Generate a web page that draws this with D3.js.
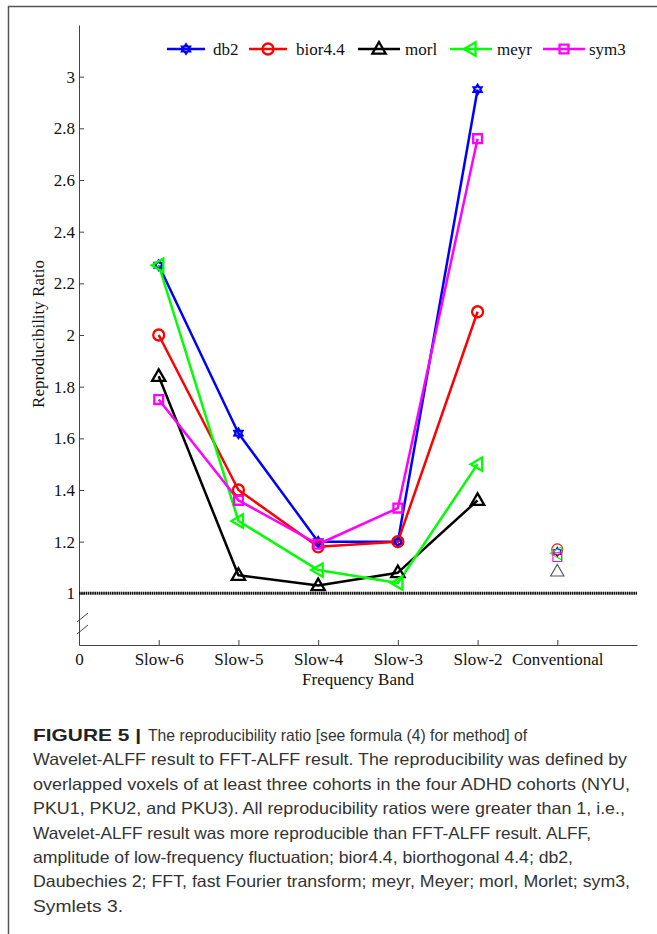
<!DOCTYPE html>
<html><head><meta charset="utf-8">
<script src="https://cdn.jsdelivr.net/npm/d3@7/dist/d3.min.js"></script>
<style>html,body{margin:0;padding:0;background:#fff;}svg{display:block;}</style>
</head><body>
<script>
// ---- data ----
const xTickLabels = ["0", "Slow-6", "Slow-5", "Slow-4", "Slow-3", "Slow-2", "Conventional"];
const bandPositions = [1, 2, 3, 4, 5];
const conventionalPosition = 6;
const seriesNames = ["db2", "bior4.4", "morl", "meyr", "sym3"];
const db2Values   = [2.27, 1.62, 1.20, 1.20, 2.95];
const biorValues  = [2.00, 1.40, 1.18, 1.20, 2.09];
const morlValues  = [1.84, 1.07, 1.03, 1.08, 1.36];
const meyrValues  = [2.27, 1.28, 1.09, 1.04, 1.50];
const sym3Values  = [1.75, 1.36, 1.19, 1.33, 2.76];
const conventionalValues = [1.16, 1.17, 1.085, 1.155, 1.14];
const yTickValues = [1, 1.2, 1.4, 1.6, 1.8, 2, 2.2, 2.4, 2.6, 2.8, 3];
const referenceValue = 1;
const captionBold = "FIGURE 5 |";
const captionLines = [
  "The reproducibility ratio [see formula (4) for method] of",
  "Wavelet-ALFF result to FFT-ALFF result. The reproducibility was defined by",
  "overlapped voxels of at least three cohorts in the four ADHD cohorts (NYU,",
  "PKU1, PKU2, and PKU3). All reproducibility ratios were greater than 1, i.e.,",
  "Wavelet-ALFF result was more reproducible than FFT-ALFF result. ALFF,",
  "amplitude of low-frequency fluctuation; bior4.4, biorthogonal 4.4; db2,",
  "Daubechies 2; FFT, fast Fourier transform; meyr, Meyer; morl, Morlet; sym3,",
  "Symlets 3."
];

// ---- styles ----
const seriesValues = [db2Values, biorValues, morlValues, meyrValues, sym3Values];
const colors = ["#0000ff", "#ff0000", "#000000", "#00ff00", "#ff00ff"];
const markerKinds = ["hexagram", "circle", "triUp", "triLeft", "square"];
const markerSize = [4.6, 5.5, 7, 7, 5.5];

function markerPath(kind, s) {
  if (kind === "circle") {
    const p = d3.path(); p.arc(0, 0, s, 0, 2 * Math.PI); return p.toString();
  }
  if (kind === "hexagram") {
    const pts = [];
    for (let i = 0; i < 12; i++) {
      const r = i % 2 === 0 ? s : s * 0.6;
      const a = -Math.PI / 2 + i * Math.PI / 6;
      pts.push([r * Math.cos(a), r * Math.sin(a)]);
    }
    return "M" + pts.map(p => p.join(",")).join("L") + "Z";
  }
  if (kind === "triUp") return `M0,${-s}L${s * 0.95},${s * 0.65}L${-s * 0.95},${s * 0.65}Z`;
  if (kind === "triLeft") return `M${-s},0L${s * 0.65},${-s * 0.95}L${s * 0.65},${s * 0.95}Z`;
  const h = s * 0.8;
  return `M${-h},${-h}L${h},${-h}L${h},${h}L${-h},${h}Z`;
}

const W = 657, H = 934;
const svg = d3.select("body").append("svg").attr("width", W).attr("height", H);

// frame
svg.append("path").attr("d", `M8.5,${H}L8.5,6.5L${W},6.5`)
  .attr("fill", "none").attr("stroke", "#555").attr("stroke-width", 1.5);

const x = d3.scaleLinear().domain([0, 7]).range([79, 637]);
const y = d3.scaleLinear().domain([0.8, 3.2]).range([645, 25]);
const serif = "Liberation Serif";
const fs = 17;

// axes
const yAxis = d3.axisLeft(y).tickValues(yTickValues).tickSizeInner(-5).tickSizeOuter(0)
  .tickPadding(4).tickFormat(d3.format("~g"));
const gy = svg.append("g").attr("transform", `translate(${x(0)},0)`).call(yAxis);
const xAxis = d3.axisBottom(x).tickValues(d3.range(xTickLabels.length)).tickSizeInner(-5).tickSizeOuter(0)
  .tickPadding(8).tickFormat((d, i) => xTickLabels[i]);
const gx = svg.append("g").attr("transform", `translate(0,${y(0.8)})`).call(xAxis);
[gx, gy].forEach(g => {
  g.attr("font-family", serif).attr("font-size", fs);
  g.selectAll("path,line").attr("stroke", "#444").attr("stroke-width", 1);
  g.selectAll("text").attr("fill", "#111");
});
gx.selectAll(".tick").filter(d => d === 0).select("line").remove();

// axis break slashes
[[622, 613], [634, 625]].forEach(([ya, yb]) => {
  svg.append("line").attr("x1", x(0) - 2).attr("x2", x(0) + 9).attr("y1", ya).attr("y2", yb)
    .attr("stroke", "#444").attr("stroke-width", 1);
});

// axis labels
svg.append("text").attr("x", (x(0) + x(7)) / 2).attr("y", 685).attr("text-anchor", "middle")
  .attr("font-family", serif).attr("font-size", fs).attr("fill", "#111").text("Frequency Band");
svg.append("text").attr("transform", "translate(44,334) rotate(-90)").attr("text-anchor", "middle")
  .attr("font-family", serif).attr("font-size", fs).attr("fill", "#111").text("Reproducibility Ratio");

// reference line at 1
svg.append("line").attr("x1", x(0)).attr("x2", x(7)).attr("y1", y(referenceValue)).attr("y2", y(referenceValue))
  .attr("stroke", "#111").attr("stroke-width", 3).attr("stroke-dasharray", "1.6 0.6");

// series
const line = d3.line().x((d, i) => x(bandPositions[i])).y(d => y(d));
seriesValues.forEach((vals, k) => {
  svg.append("path").datum(vals).attr("d", line).attr("fill", "none")
    .attr("stroke", colors[k]).attr("stroke-width", 2.5).attr("stroke-linejoin", "round");
});
seriesValues.forEach((vals, k) => {
  svg.append("g").selectAll("path").data(vals).join("path")
    .attr("transform", (d, i) => `translate(${x(bandPositions[i])},${y(d)})`)
    .attr("d", markerPath(markerKinds[k], markerSize[k]))
    .attr("fill", "none").attr("stroke", colors[k]).attr("stroke-width", 2.3);
});

// conventional points (thin)
conventionalValues.forEach((v, k) => {
  svg.append("path").attr("transform", `translate(${x(conventionalPosition)},${y(v)})`)
    .attr("d", markerPath(markerKinds[k], markerSize[k]))
    .attr("fill", "none").attr("stroke", k === 2 ? "#555" : colors[k]).attr("stroke-width", 1.1);
});

// legend
const legendX = [[167, 205, 213], [249, 287, 296], [358, 400, 405], [450, 492, 497], [543, 585, 589]];
const legendY = 49;
seriesNames.forEach((name, k) => {
  const [a, b, t] = legendX[k];
  svg.append("line").attr("x1", a).attr("x2", b).attr("y1", legendY).attr("y2", legendY)
    .attr("stroke", colors[k]).attr("stroke-width", 2.5);
  svg.append("path").attr("transform", `translate(${(a + b) / 2},${legendY})`)
    .attr("d", markerPath(markerKinds[k], markerSize[k]))
    .attr("fill", "none").attr("stroke", colors[k]).attr("stroke-width", 2.3);
  svg.append("text").attr("x", t).attr("y", legendY + 5.5).attr("font-family", serif)
    .attr("font-size", fs).attr("fill", "#111").text(name);
});

// caption
const sans = "Liberation Sans";
const capWidths = [374, 594, 597, 592, 558, 540, 597, 90];
const capStart = [153, 33, 33, 33, 33, 33, 33, 33];
svg.append("text").attr("x", 33).attr("y", 741).attr("font-family", sans).attr("font-size", 16.5)
  .attr("font-weight", "bold").attr("fill", "#222").attr("textLength", 108).attr("lengthAdjust", "spacingAndGlyphs")
  .text(captionBold);
captionLines.forEach((ln, i) => {
  svg.append("text").attr("x", i === 0 ? 148 : capStart[i]).attr("y", 741 + i * 24.4).attr("font-family", sans)
    .attr("font-size", 16.5).attr("fill", "#333").attr("textLength", i === 0 ? 379 : capWidths[i])
    .attr("lengthAdjust", "spacingAndGlyphs").text(ln);
});
</script>
</body></html>
